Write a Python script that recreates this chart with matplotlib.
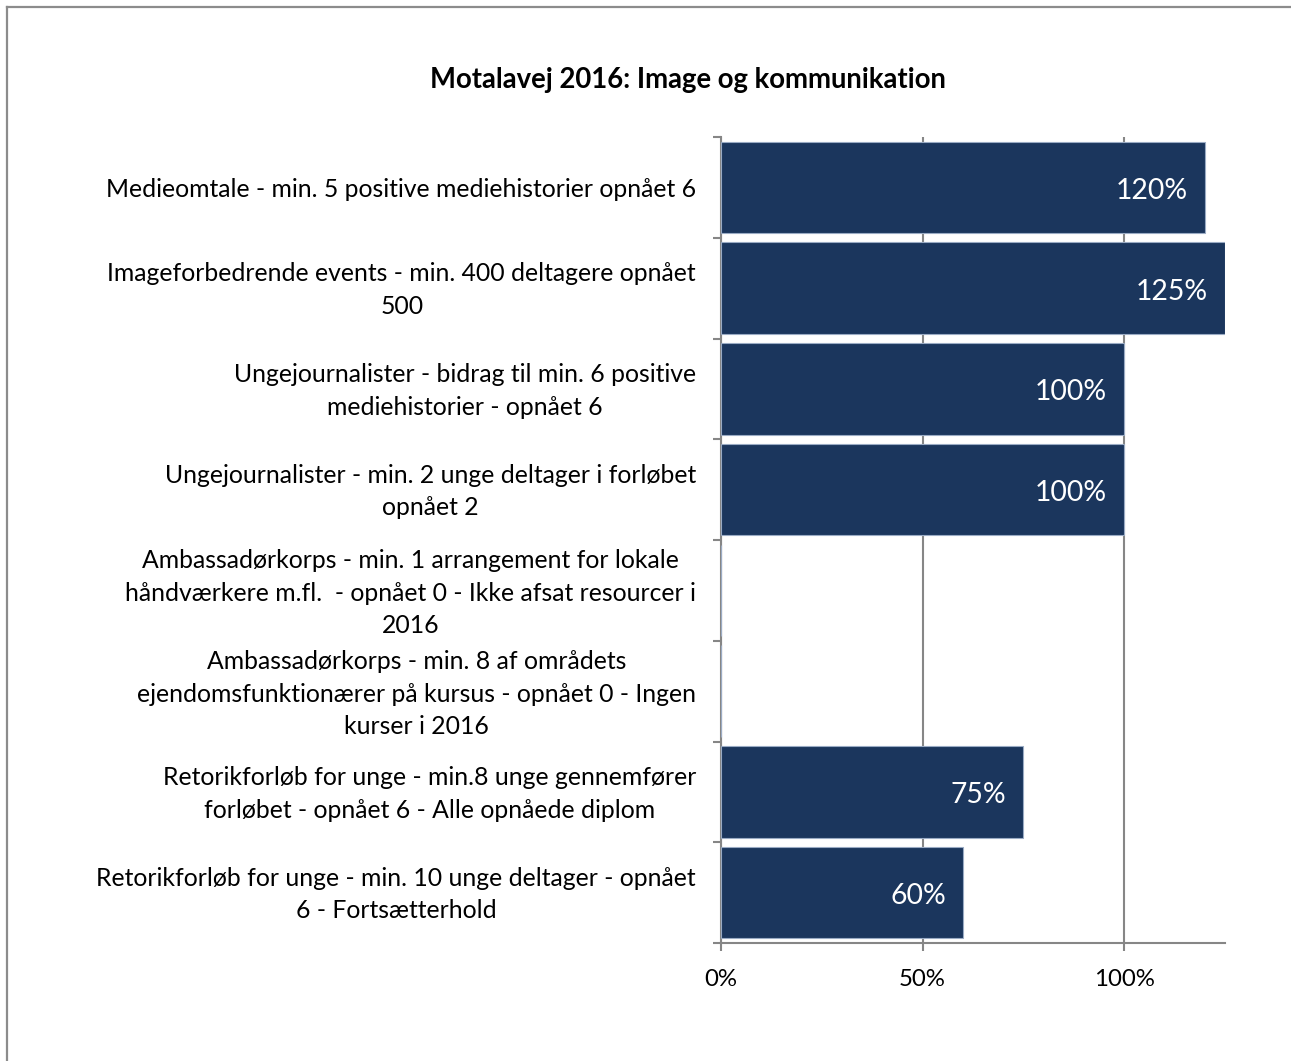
import numpy as np
import matplotlib.pyplot as plt
from matplotlib.lines import Line2D

plt.rcParams['font.family'] = ['Lato', 'DejaVu Sans']

# data (top to bottom as in the chart)
categories = [
    "Medieomtale - min. 5 positive mediehistorier opnået 6",
    "Imageforbedrende events - min. 400 deltagere opnået\n500",
    "Ungejournalister - bidrag til min. 6 positive\nmediehistorier - opnået 6",
    "Ungejournalister - min. 2 unge deltager i forløbet\nopnået 2",
    "Ambassadørkorps - min. 1 arrangement for lokale\nhåndværkere m.fl.  - opnået 0 - Ikke afsat resourcer i\n2016",
    "Ambassadørkorps - min. 8 af områdets\nejendomsfunktionærer på kursus - opnået 0 - Ingen\nkurser i 2016",
    "Retorikforløb for unge - min.8 unge gennemfører\nforløbet - opnået 6 - Alle opnåede diplom",
    "Retorikforløb for unge - min. 10 unge deltager - opnået\n6 - Fortsætterhold",
]
values = [120, 125, 100, 100, np.nan, np.nan, 75, 60]
xticks = [0, 50, 100]
xticklabels = ["0%", "50%", "100%"]

bar_color = '#1B365D'
gray = '#868686'

fig = plt.figure(figsize=(12.91, 10.61), dpi=100)
ax = fig.add_axes([721/1291, 1-943/1061, (1225-721)/1291, (943-137)/1061])

n = len(categories)
ypos = np.arange(n)
bars = ax.barh(ypos, np.nan_to_num(values), height=0.91, color=bar_color,
               edgecolor='#9AABC4', linewidth=0.8, zorder=3)

for y, v in zip(ypos, values):
    if np.isnan(v):
        continue
    ax.annotate(f"{v:.0f}%", xy=(v, y), xytext=(-17, -1), textcoords='offset pixels',
                ha='right', va='center_baseline', color='white', fontsize=20.4, zorder=4)

ax.set_xlim(0, 125)
ax.set_ylim(n - 0.5, -0.5)

# category labels drawn as text next to the axis
ax.set_yticks(ypos)
ax.set_yticklabels([])
for y, lab in zip(ypos, categories):
    dy = -3 if lab.count('\n') == 2 else -2
    ax.annotate(lab, xy=(0, y), xytext=(-25, dy), textcoords='offset pixels',
                ha='right', va='center', multialignment='center',
                fontsize=17.8, linespacing=1.5, annotation_clip=False)
ax.set_yticks(np.arange(n + 1) - 0.5, minor=True)
ax.tick_params(axis='y', which='major', length=0)
ax.tick_params(axis='y', which='minor', length=6, width=1.5, color=gray, direction='out')

ax.set_xticks(xticks)
ax.set_xticklabels(xticklabels, fontsize=17.3)
ax.tick_params(axis='x', length=6, width=1.5, color=gray, pad=13)

ax.grid(axis='x', color=gray, linewidth=1.5, zorder=0)
for s in ['top', 'right']:
    ax.spines[s].set_visible(False)
for s in ['left', 'bottom']:
    ax.spines[s].set_color(gray)
    ax.spines[s].set_linewidth(1.5)

fig.text(688/1291, 1-80/1061, "Motalavej 2016: Image og kommunikation",
         ha='center', va='center', fontsize=19.8, fontweight='bold')

# outer frame (left and top edges visible)
fig.add_artist(Line2D([7/1291, 7/1291], [0, 1-7/1061], transform=fig.transFigure, color='#8C8C8C', lw=1.6))
fig.add_artist(Line2D([7/1291, 1], [1-7/1061, 1-7/1061], transform=fig.transFigure, color='#8C8C8C', lw=1.6))

fig.savefig('out.png', dpi=100)
